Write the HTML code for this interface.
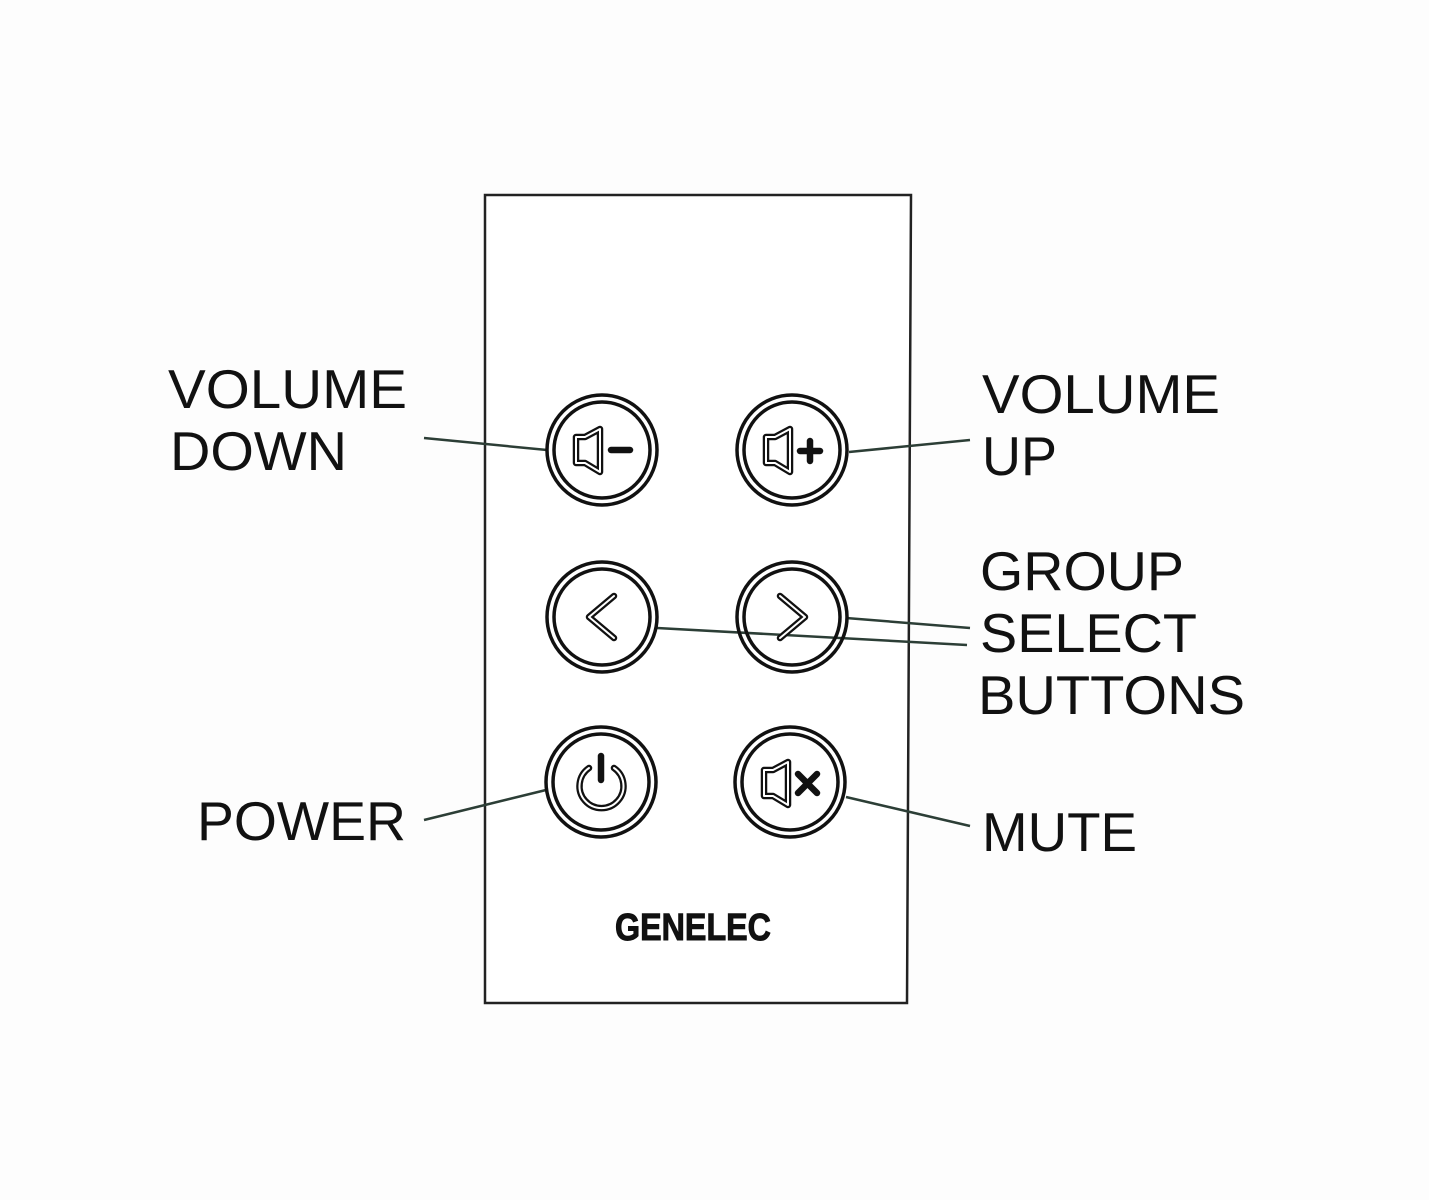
<!DOCTYPE html>
<html><head><meta charset="utf-8"><style>html,body{margin:0;padding:0;background:#fff}svg{display:block}</style></head>
<body>
<svg width="1429" height="1200" viewBox="0 0 1429 1200" xmlns="http://www.w3.org/2000/svg">
<rect width="1429" height="1200" fill="#fdfdfd"/>
<polygon points="485,195 911,195 907,1003 485,1003" fill="#fff" stroke="#222" stroke-width="2.5"/>
<g stroke="#2c3e36" stroke-width="2.5" fill="none">
<line x1="424" y1="438" x2="547" y2="450"/>
<line x1="849" y1="452" x2="970" y2="440"/>
<line x1="846" y1="618" x2="970" y2="628"/>
<line x1="657" y1="628" x2="967" y2="645"/>
<line x1="424" y1="820" x2="546" y2="790"/>
<line x1="846" y1="797" x2="970" y2="826"/>
</g>
<g fill="none" stroke="#111" stroke-width="3.5">
<circle cx="602" cy="450" r="55"/><circle cx="602" cy="450" r="48"/>
<circle cx="792" cy="450" r="55"/><circle cx="792" cy="450" r="48"/>
<circle cx="602" cy="617" r="55"/><circle cx="602" cy="617" r="48"/>
<circle cx="792" cy="617" r="55"/><circle cx="792" cy="617" r="48"/>
<circle cx="601" cy="782" r="55"/><circle cx="601" cy="782" r="48"/>
<circle cx="790" cy="782" r="55"/><circle cx="790" cy="782" r="48"/>
</g>
<g fill="none" stroke="#111" stroke-width="6.5" stroke-linejoin="round" stroke-linecap="round">
<path d="M576,437 H585 L600,429 V472 L585,463 H576 Z"/>
<line x1="611" y1="450" x2="630" y2="450"/>
<path d="M766,437 H775 L790,429 V472 L775,463 H766 Z"/>
<line x1="800" y1="451" x2="820" y2="451"/><line x1="810" y1="441" x2="810" y2="461"/>
<path d="M614,596 L589,617 L614,638"/>
<path d="M780,596 L805,617 L780,638"/>
<path d="M589,768 A22,22 0 1 0 614,768"/><line x1="601" y1="756" x2="601" y2="780"/>
<path d="M764,770 H773 L788,762 V805 L773,796 H764 Z"/>
<line x1="798" y1="774" x2="817" y2="793"/><line x1="817" y1="774" x2="798" y2="793"/>
</g>
<g stroke="#fff" stroke-width="2" fill="none" stroke-linejoin="round" stroke-linecap="round">
<path d="M576,437 H585 L600,429 V472 L585,463 H576 Z"/>
<path d="M766,437 H775 L790,429 V472 L775,463 H766 Z"/>
<path d="M764,770 H773 L788,762 V805 L773,796 H764 Z"/>
<path d="M614,596 L589,617 L614,638"/><path d="M780,596 L805,617 L780,638"/>
<path d="M589,768 A22,22 0 1 0 614,768"/>
</g>
<g font-family="Liberation Sans, sans-serif" font-size="55" fill="#111">
<text x="168" y="408" textLength="239" lengthAdjust="spacingAndGlyphs">VOLUME</text>
<text x="170" y="470" textLength="177" lengthAdjust="spacingAndGlyphs">DOWN</text>
<text x="982" y="413" textLength="238" lengthAdjust="spacingAndGlyphs">VOLUME</text>
<text x="982" y="475" textLength="75" lengthAdjust="spacingAndGlyphs">UP</text>
<text x="980" y="590" textLength="204" lengthAdjust="spacingAndGlyphs">GROUP</text>
<text x="980" y="652" textLength="217" lengthAdjust="spacingAndGlyphs">SELECT</text>
<text x="978" y="714" textLength="267" lengthAdjust="spacingAndGlyphs">BUTTONS</text>
<text x="197" y="840" textLength="209" lengthAdjust="spacingAndGlyphs">POWER</text>
<text x="982" y="851" textLength="155" lengthAdjust="spacingAndGlyphs">MUTE</text>
</g>
<text x="615" y="940" font-family="Liberation Sans Narrow, Liberation Sans, sans-serif" font-weight="bold" font-size="38" fill="#111" stroke="#111" stroke-width="1" textLength="156" lengthAdjust="spacingAndGlyphs">GENELEC</text>
</svg>
</body></html>
